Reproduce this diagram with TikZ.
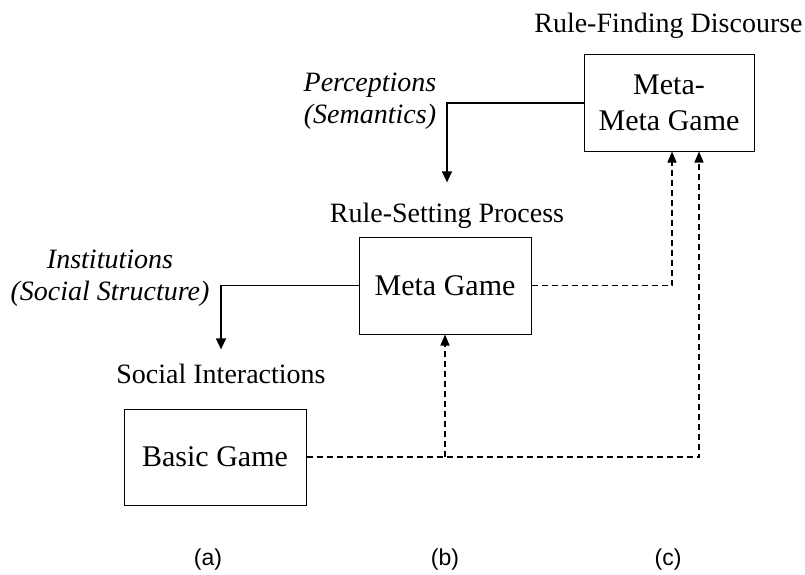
\documentclass[tikz,border=0pt]{standalone}
\usepackage{fontspec}
\setmainfont{Liberation Serif}
\newfontfamily\capfont{Liberation Sans}
\usetikzlibrary{arrows.meta,positioning}

\begin{document}
\begin{tikzpicture}[x=1pt,y=-1pt]
\tikzset{gamebox/.style={draw,line width=1pt,minimum height=96pt,
  align=center,inner sep=0pt,font=\fontsize{30}{36}\selectfont}}
\tikzset{levellabel/.style={inner sep=0pt,anchor=base,font=\fontsize{28}{32}\selectfont}}
\tikzset{rulelabel/.style={align=center,inner sep=0pt,
  font=\fontsize{28}{31.5}\selectfont\itshape}}
\tikzset{panellabel/.style={inner sep=0pt,font=\capfont\fontsize{23}{26}\selectfont}}
\tikzset{flowarr/.style={draw,line width=1.4pt,-{Triangle[length=11pt,width=10pt]}}}
\tikzset{feedarr/.style={draw,line width=1.2pt,dash pattern=on 6pt off 4pt,
  -{Triangle[length=11pt,width=9pt]}}}
\useasboundingbox (0,0) rectangle (805,575);
% the three games
\node[gamebox,minimum width=170pt] (metameta) at (669,103) {Meta-\\Meta Game};
\node[gamebox,minimum width=172pt,minimum height=97pt] (meta) at (445,285.5) {Meta Game};
\node[gamebox,minimum width=182pt] (basic) at (215,457) {Basic Game};
% level names
\node[levellabel] (rfd) at (668.5,33) {Rule-Finding Discourse};
\node[levellabel] (rsp) at (447,222) {Rule-Setting Process};
\node[levellabel] (si) at (221,383) {Social Interactions};
% rules handed down
\node[rulelabel] (perc) at (370,101) {Perceptions\\(Semantics)};
\node[rulelabel] (inst) at (110,278) {Institutions\\(Social Structure)};
\draw[flowarr] (metameta.west) -| ([yshift=20pt]rsp.north);
\draw[flowarr] (meta.west) -| ([yshift=14pt]si.north);
% feedback
\draw[feedarr] (meta.east) -| ([xshift=3pt]metameta.south);
\draw[feedarr] (basic.east) -| ([xshift=30pt]metameta.south);
\draw[feedarr] (basic.east -| meta.south) -- (meta.south);
% panels
\node[panellabel] (capa) at (208,560) {(a)};
\node[panellabel] (capb) at (445,560) {(b)};
\node[panellabel] (capc) at (668,560) {(c)};
\end{tikzpicture}
\end{document}
